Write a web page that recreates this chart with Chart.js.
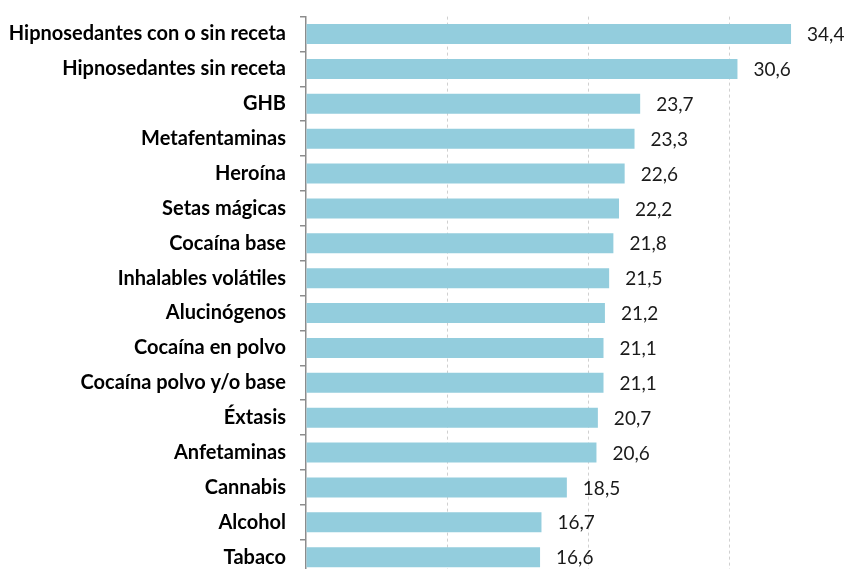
<!DOCTYPE html>
<html>
<head>
<meta charset="utf-8">
<script src="https://cdn.jsdelivr.net/npm/chart.js@4/dist/chart.umd.min.js"></script>
<style>
  html, body { margin: 0; padding: 0; background: #fff; overflow: hidden; }
  #wrap { width: 870px; height: 590px; }
</style>
</head>
<body>
<div id="wrap"><canvas id="drugChart" width="870" height="590"></canvas></div>
<script>
// categories and values (top to bottom)
const categories = [
  "Hipnosedantes con o sin receta",
  "Hipnosedantes sin receta",
  "GHB",
  "Metafentaminas",
  "Heroína",
  "Setas mágicas",
  "Cocaína base",
  "Inhalables volátiles",
  "Alucinógenos",
  "Cocaína en polvo",
  "Cocaína polvo y/o base",
  "Éxtasis",
  "Anfetaminas",
  "Cannabis",
  "Alcohol",
  "Tabaco",
];
const values = [34.4, 30.6, 23.7, 23.3, 22.6, 22.2, 21.8, 21.5, 21.2, 21.1, 21.1, 20.7, 20.6, 18.5, 16.7, 16.6];
const xTicks = [0, 10, 20, 30, 40];

// draws the value next to each bar, with a decimal comma
const valueLabels = {
  id: "valueLabels",
  afterDatasetsDraw(chart) {
    let ctx = chart.ctx;
    let meta = chart.getDatasetMeta(0);
    ctx.save();
    ctx.font = "19px Lato";
    ctx.fillStyle = "#1a1a1a";
    ctx.textAlign = "left";
    ctx.textBaseline = "middle";
    meta.data.forEach((bar, i) => {
      let txt = values[i].toFixed(1).replace(".", ",");
      ctx.fillText(txt, bar.x + 16, bar.y + 1);
    });
    ctx.restore();
  },
};

Chart.defaults.font.family = "Lato";
new Chart("drugChart", {
  type: "bar",
  plugins: [valueLabels],
  data: {
    labels: categories,
    datasets: [
      {
        data: values,
        backgroundColor: "#93cddd",
        barPercentage: 0.575,
        categoryPercentage: 1,
      },
    ],
  },
  options: {
    indexAxis: "y",
    responsive: false,
    animation: false,
    devicePixelRatio: 1,
    layout: {
      padding: { top: 16.6, bottom: 15.4, left: 0, right: 0 },
    },
    plugins: {
      legend: { display: false },
      tooltip: { enabled: false },
    },
    scales: {
      x: {
        min: 0,
        max: 40,
        afterBuildTicks: (s) => {
          s.ticks = xTicks.map((v) => ({ value: v }));
        },
        afterFit: (s) => {
          s.height = 0;
          s.paddingLeft = 0;
          s.paddingRight = 0;
        },
        ticks: { display: false },
        grid: {
          drawTicks: false,
          color: (c) => (c.tick && c.tick.value === 0 ? "rgba(0,0,0,0)" : "#d0d0d0"),
          lineWidth: 1,
        },
        border: { display: false, dash: [3, 3] },
      },
      y: {
        afterFit: (s) => {
          s.width = 306;
          s.paddingTop = 0;
          s.paddingBottom = 0;
        },
        grid: {
          drawOnChartArea: false,
          drawTicks: true,
          tickLength: 6,
          color: "#8c8c8c",
          lineWidth: 1.5,
          offset: true,
        },
        border: { display: true, color: "#8c8c8c", width: 1.5 },
        ticks: {
          padding: 14,
          color: "#000",
          font: { size: 20, weight: "bold" },
        },
      },
    },
  },
});
</script>
</body>
</html>
